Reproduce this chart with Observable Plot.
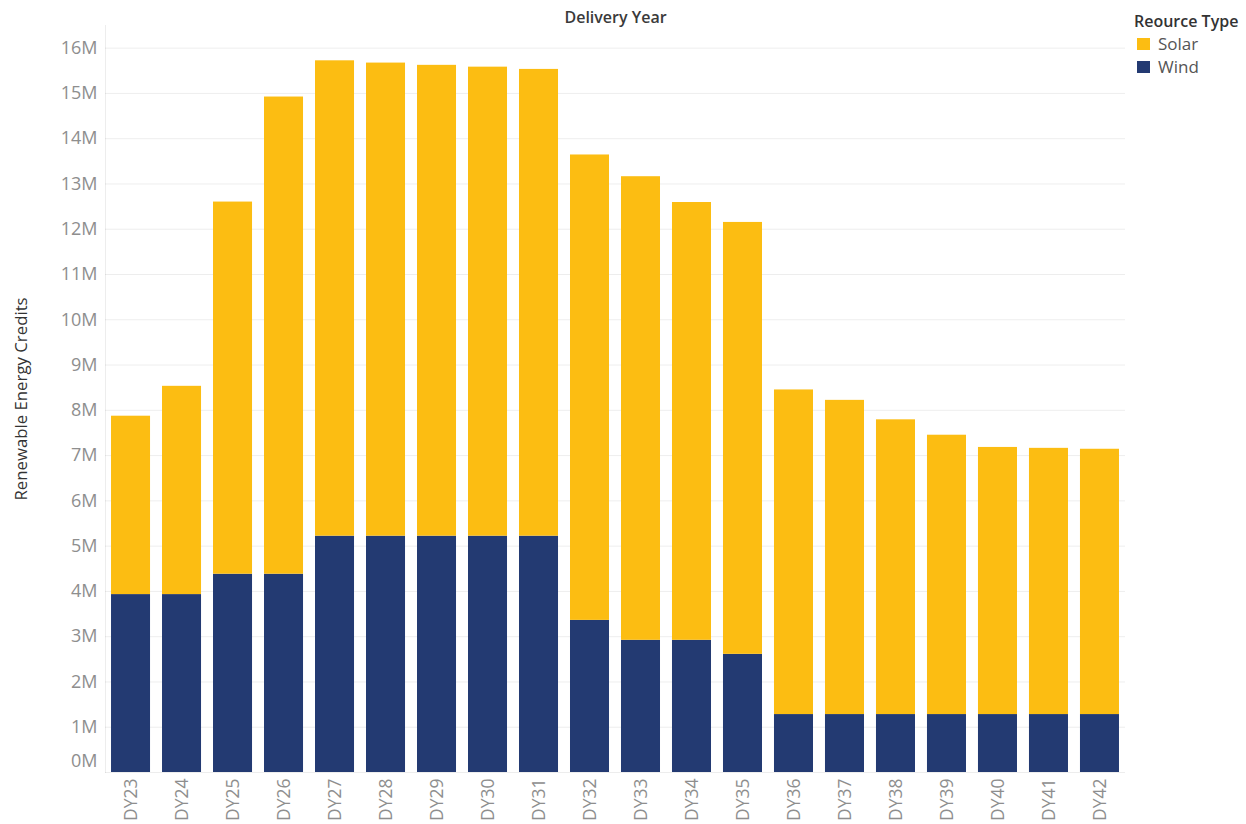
<!DOCTYPE html>
<html>
<head>
<meta charset="utf-8">
<script src="https://cdn.jsdelivr.net/npm/d3@7"></script>
<script src="https://cdn.jsdelivr.net/npm/@observablehq/plot@0.6"></script>
<style>
  html, body { margin: 0; padding: 0; background: #fff; }
  #wrap { position: relative; width: 1246px; height: 824px; font-family: "Open Sans", sans-serif; }
  #legend { position: absolute; left: 1134px; top: 10px; color: #333; }
  #legend .ttl { font-size: 16px; font-weight: 600; color: #333; line-height: 22px; }
  #legend .row { display: flex; align-items: center; font-size: 17px; color: #555; line-height: 23px; }
  #legend .sw { width: 13px; height: 12px; margin: 0 8px 0 3px; }
</style>
</head>
<body>
<div id="wrap">
  <div id="chart"></div>
  <div id="legend"></div>
</div>
<script>
const years = ["DY23","DY24","DY25","DY26","DY27","DY28","DY29","DY30","DY31","DY32","DY33","DY34","DY35","DY36","DY37","DY38","DY39","DY40","DY41","DY42"];
const totals = [7.87, 8.53, 12.60, 14.92, 15.72, 15.67, 15.62, 15.58, 15.53, 13.64, 13.16, 12.59, 12.15, 8.45, 8.22, 7.79, 7.45, 7.18, 7.16, 7.14];
const wind = [3.93, 3.93, 4.38, 4.38, 5.22, 5.22, 5.22, 5.22, 5.22, 3.36, 2.92, 2.92, 2.61, 1.28, 1.28, 1.28, 1.28, 1.28, 1.28, 1.28];
const types = ["Solar", "Wind"];
const colors = ["#FCBD12", "#233A72"];
const yTicks = [1,2,3,4,5,6,7,8,9,10,11,12,13,14,15,16];

const rows = [];
years.forEach((y, i) => {
  rows.push({year: y, type: "Wind", value: wind[i] * 1e6});
  rows.push({year: y, type: "Solar", value: (totals[i] - wind[i]) * 1e6});
});

const chart = Plot.plot({
  width: 1246,
  height: 824,
  marginLeft: 105,
  marginRight: 121,
  marginTop: 25,
  marginBottom: 52,
  style: {fontFamily: "Open Sans, sans-serif", background: "#fff"},
  x: {domain: years, paddingInner: 0.235, paddingOuter: 0.118, round: false, label: null},
  y: {domain: [0, 16.5e6], label: null},
  color: {domain: types, range: colors},
  marks: [
    Plot.gridY([0, ...yTicks].map(d => d * 1e6), {stroke: "#000", strokeOpacity: 0.07}),
    Plot.frame({anchor: "left", stroke: "#000", strokeOpacity: 0.07}),
    Plot.barY(rows, {x: "year", y: "value", fill: "type", order: ["Wind", "Solar"]}),
    Plot.axisY(yTicks.map(d => d * 1e6), {tickFormat: d => d / 1e6 + "M", tickSize: 0, tickPadding: 8, fontSize: 18, color: "#8e8e8e", label: null}),
    Plot.axisY([0], {tickFormat: () => "0M", tickSize: 0, tickPadding: 8, fontSize: 18, color: "#8e8e8e", dy: -11, label: null}),
    Plot.axisX({tickRotate: -90, tickSize: 0, tickPadding: 6, fontSize: 17.5, color: "#8e8e8e", label: null}),
    Plot.text(["Delivery Year"], {frameAnchor: "top", lineAnchor: "middle", dy: -8, fontSize: 16, fontWeight: 600, fill: "#3a3a3a"}),
    Plot.text(["Renewable Energy Credits"], {frameAnchor: "left", textAnchor: "middle", lineAnchor: "middle", dx: -84, rotate: -90, fontSize: 16.8, fill: "#333"})
  ]
});
document.getElementById("chart").appendChild(chart);

const legend = document.getElementById("legend");
legend.innerHTML = `<div class="ttl">Reource Type</div>` +
  types.map((t, i) => `<div class="row"><span class="sw" style="background:${colors[i]}"></span>${t}</div>`).join("");
</script>
</body>
</html>
